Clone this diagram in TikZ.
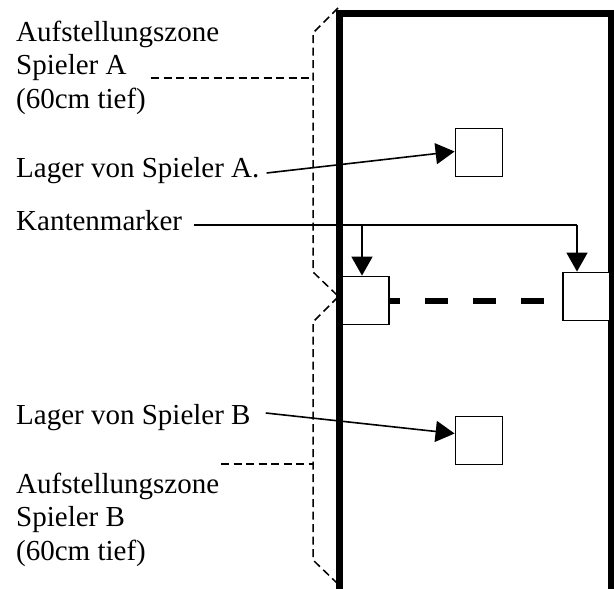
\documentclass[tikz,border=0pt]{standalone}
\usepackage{fontspec}
\setmainfont{Liberation Serif}
\usetikzlibrary{arrows.meta}
\begin{document}
\begin{tikzpicture}[x=1pt,y=-1pt,
  lbl/.style={anchor=base west,inner sep=0pt,align=left,font=\fontsize{29}{33.5}\selectfont},
  frame/.style={line width=7pt,line join=miter},
  zone/.style={line width=1.5pt,dash pattern=on 8pt off 4.5pt},
  conn/.style={line width=1.6pt},
  arr/.style={conn,-{Triangle[length=19pt,width=21pt]}},
  boxsq/.style={draw,line width=1.8pt,fill=white,minimum width=47pt,minimum height=48pt,inner sep=0pt},
  marker/.style={line width=6pt,dash pattern=on 23pt off 25pt,dash phase=13pt}]
\useasboundingbox (0,0) rectangle (614,589);
% thick field frame
\draw[frame] (339.5,600) -- (339.5,13.5) -- (611.5,13.5) -- (611.5,600);
% deployment zones
\draw[zone] (338,8) -- (313,33) -- (313,272) -- (338,296);
\draw[zone] (338,297) -- (313,322) -- (313,560) -- (338,584);
% labels (base anchor = baseline of last line)
\node[lbl] (zoneA) at (16,108) {Aufstellungszone\\Spieler A\\(60cm tief)};
\node[lbl] (lagerA) at (16,177) {Lager von Spieler A.};
\node[lbl] (kanten) at (16,230) {Kantenmarker};
\node[lbl] (lagerB) at (16,424) {Lager von Spieler B};
\node[lbl] (zoneB) at (16,560) {Aufstellungszone\\Spieler B\\(60cm tief)};
% boxes
\node[boxsq] (boxA) at (479,152.5) {};
\node[boxsq] (boxB) at (479,440.5) {};
\node[boxsq] (mL) at (365.5,300.5) {};
\node[boxsq] (mR) at (586.5,296.5) {};
% dashed leaders to zones
\coordinate (zAl) at (151,78);
\coordinate (zAr) at (313,78);
\coordinate (zBl) at (221,464);
\coordinate (zBr) at (313,464);
\draw[zone] (zAl) -- (zAr);
\draw[zone] (zBl) -- (zBr);
% camp arrows
\draw[arr] ([xshift=7pt,yshift=4pt]lagerA.base east) -- ([yshift=1pt]boxA.west);
\draw[arr] ([xshift=15pt,yshift=11pt]lagerB.base east) -- ([yshift=7pt]boxB.west);
% edge markers
\coordinate (kL) at (362,225);
\coordinate (kR) at (577,225);
\draw[conn] ([xshift=12pt,yshift=5pt]kanten.base east) -- (kR);
\draw[arr] (kL) -- (kL |- mL.north);
\draw[arr] (kR) -- (kR |- mR.north);
% dashed edge between markers
\draw[marker] (mL.east) -- (mL.east -| mR.west);
\end{tikzpicture}
\end{document}
